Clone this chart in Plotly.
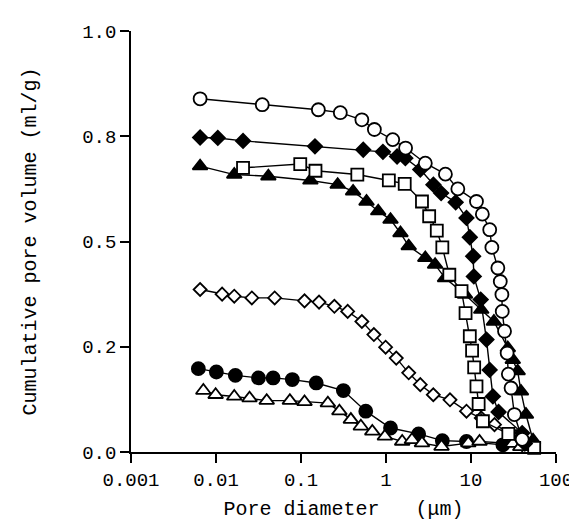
import plotly.graph_objects as go

# Open circles
oc_x = [0.0065, 0.035, 0.16, 0.29, 0.52, 0.73, 1.2, 1.7, 2.9, 5.0, 7.0, 11.6, 13.6, 16.6, 17.6, 20.7, 22.1, 23.1, 23.3, 24.8, 26.6, 27.5, 29.6, 32.4, 40.0]
oc_y = [0.839, 0.825, 0.813, 0.806, 0.789, 0.766, 0.742, 0.722, 0.686, 0.660, 0.625, 0.595, 0.565, 0.528, 0.486, 0.437, 0.405, 0.374, 0.334, 0.287, 0.235, 0.185, 0.152, 0.089, 0.030]

# Filled diamonds
fd_x = [0.0065, 0.0105, 0.0208, 0.146, 0.54, 0.92, 1.35, 1.69, 2.53, 3.61, 4.45, 6.6, 8.85, 9.68, 10.6, 10.8, 13.0, 15.2, 16.6, 18.1, 21.1, 40.0, 43.0]
fd_y = [0.747, 0.746, 0.739, 0.726, 0.718, 0.713, 0.702, 0.698, 0.671, 0.635, 0.615, 0.593, 0.556, 0.510, 0.465, 0.417, 0.362, 0.267, 0.195, 0.132, 0.095, 0.045, 0.020]

# Filled triangles
ft_x = [0.0065, 0.0164, 0.0413, 0.129, 0.27, 0.41, 0.59, 0.81, 1.13, 1.48, 1.85, 2.9, 3.78, 4.95, 8.5, 13.2, 18.6, 27.1, 31.0, 35.4, 38.7, 44.3, 53.7]
ft_y = [0.679, 0.659, 0.655, 0.645, 0.635, 0.619, 0.595, 0.572, 0.552, 0.520, 0.489, 0.461, 0.445, 0.413, 0.374, 0.338, 0.310, 0.247, 0.219, 0.192, 0.144, 0.089, 0.028]

# Open squares
os_x = [0.0208, 0.098, 0.148, 0.46, 1.08, 1.66, 2.65, 3.22, 3.96, 4.6, 5.56, 7.74, 8.63, 9.68, 10.3, 10.9, 11.6, 12.3, 13.8, 27.5, 55.4]
os_y = [0.675, 0.684, 0.668, 0.659, 0.645, 0.637, 0.595, 0.560, 0.526, 0.486, 0.421, 0.382, 0.330, 0.275, 0.241, 0.201, 0.156, 0.114, 0.073, 0.043, 0.010]

# Open diamonds
od_x = [0.0065, 0.0118, 0.0164, 0.0264, 0.049, 0.11, 0.163, 0.247, 0.354, 0.52, 0.72, 0.99, 1.32, 1.85, 2.53, 3.6, 5.66, 8.85, 13.2, 18.9, 33.9, 40.0]
od_y = [0.386, 0.375, 0.370, 0.366, 0.366, 0.359, 0.356, 0.346, 0.334, 0.310, 0.279, 0.249, 0.223, 0.188, 0.160, 0.136, 0.124, 0.097, 0.081, 0.065, 0.037, 0.017]

# Filled circles
fc_x = [0.0062, 0.0101, 0.0169, 0.0316, 0.047, 0.079, 0.151, 0.315, 0.578, 1.13, 2.42, 4.6, 8.85, 23.7, 38.7]
fc_y = [0.198, 0.190, 0.182, 0.176, 0.176, 0.172, 0.164, 0.146, 0.097, 0.057, 0.043, 0.027, 0.025, 0.017, 0.030]

# Open triangles
ot_x = [0.0071, 0.0099, 0.0164, 0.0248, 0.0395, 0.074, 0.11, 0.207, 0.283, 0.386, 0.506, 0.69, 0.97, 1.55, 2.02, 2.65, 4.5, 9.3, 12.6, 31.0, 38.0]
ot_y = [0.146, 0.136, 0.132, 0.128, 0.122, 0.122, 0.119, 0.116, 0.097, 0.077, 0.061, 0.049, 0.037, 0.025, 0.029, 0.021, 0.013, 0.021, 0.025, 0.020, 0.012]

x_tickvals = [0.001, 0.01, 0.1, 1, 10, 100]
x_ticktext = ["0.001", "0.01", "0.1", "1", "10", "100"]
y_tickvals = [0.0, 0.25, 0.5, 0.75, 1.0]
y_ticktext = ["0.0", "0.2", "0.5", "0.8", "1.0"]

FONT = "Liberation Mono, Courier New, monospace"

series = [
    (od_x, od_y, "diamond-open", 10),
    (fc_x, fc_y, "circle", 13),
    (ot_x, ot_y, "triangle-up-open", 13),
    (ft_x, ft_y, "triangle-up", 13),
    (os_x, os_y, "square-open", 12),
    (fd_x, fd_y, "diamond", 11),
    (oc_x, oc_y, "circle-open", 13),
]

fig = go.Figure()
for xs, ys, sym, sz in series:
    filled = not sym.endswith("open")
    fig.add_trace(go.Scatter(
        x=xs, y=ys, mode="lines+markers",
        line=dict(color="black", width=1.4),
        marker=dict(symbol=sym if filled else sym.replace("-open", ""),
                    size=sz,
                    color="black" if filled else "white",
                    line=dict(color="black", width=1.8)),
        cliponaxis=False, showlegend=False,
    ))

fig.update_layout(
    width=577, height=524,
    margin=dict(l=123, r=25, t=23, b=80),
    paper_bgcolor="white", plot_bgcolor="white",
    font=dict(family=FONT, size=19, color="black"),
)
fig.update_xaxes(
    type="log", range=[-3, 2],
    tickvals=x_tickvals, ticktext=x_ticktext,
    showline=True, linecolor="black", linewidth=1.5,
    ticks="outside", ticklen=9, tickwidth=1.5, tickcolor="black",
    showgrid=False, zeroline=False,
    title=dict(text="Pore diameter\u00a0\u00a0\u00a0(\u03bcm)", font=dict(size=20), standoff=10),
)
fig.update_yaxes(
    range=[0, 1],
    tickvals=y_tickvals, ticktext=y_ticktext,
    showline=True, linecolor="black", linewidth=1.5,
    ticks="outside", ticklen=9, tickwidth=1.5, tickcolor="black",
    showgrid=False, zeroline=False,
    title=dict(text="Cumulative pore volume (ml/g)", font=dict(size=20), standoff=40),
)

fig.write_html("out.html")
